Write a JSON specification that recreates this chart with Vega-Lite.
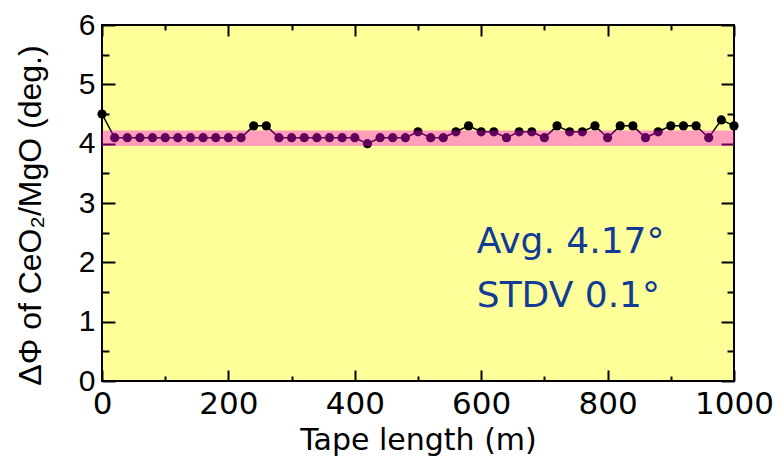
{
  "$schema": "https://vega.github.io/schema/vega-lite/v6.json",
  "width": 632,
  "height": 356,
  "autosize": {"type": "none"},
  "padding": {"left": 102, "top": 25, "right": 46, "bottom": 75},
  "background": "white",
  "config": {
    "view": {"fill": "#ffff99", "stroke": "black", "strokeWidth": 2},
    "axis": {"grid": false, "domain": false, "tickColor": "black", "tickWidth": 2, "labelColor": "black", "titleColor": "black"}
  },
  "datasets": {
    "pts": [
      {"length": 0, "dphi": 4.5},
      {"length": 20, "dphi": 4.1},
      {"length": 40, "dphi": 4.1},
      {"length": 60, "dphi": 4.1},
      {"length": 80, "dphi": 4.1},
      {"length": 100, "dphi": 4.1},
      {"length": 120, "dphi": 4.1},
      {"length": 140, "dphi": 4.1},
      {"length": 160, "dphi": 4.1},
      {"length": 180, "dphi": 4.1},
      {"length": 200, "dphi": 4.1},
      {"length": 220, "dphi": 4.1},
      {"length": 240, "dphi": 4.3},
      {"length": 260, "dphi": 4.3},
      {"length": 280, "dphi": 4.1},
      {"length": 300, "dphi": 4.1},
      {"length": 320, "dphi": 4.1},
      {"length": 340, "dphi": 4.1},
      {"length": 360, "dphi": 4.1},
      {"length": 380, "dphi": 4.1},
      {"length": 400, "dphi": 4.1},
      {"length": 420, "dphi": 4.0},
      {"length": 440, "dphi": 4.1},
      {"length": 460, "dphi": 4.1},
      {"length": 480, "dphi": 4.1},
      {"length": 500, "dphi": 4.2},
      {"length": 520, "dphi": 4.1},
      {"length": 540, "dphi": 4.1},
      {"length": 560, "dphi": 4.2},
      {"length": 580, "dphi": 4.3},
      {"length": 600, "dphi": 4.2},
      {"length": 620, "dphi": 4.2},
      {"length": 640, "dphi": 4.1},
      {"length": 660, "dphi": 4.2},
      {"length": 680, "dphi": 4.2},
      {"length": 700, "dphi": 4.1},
      {"length": 720, "dphi": 4.3},
      {"length": 740, "dphi": 4.2},
      {"length": 760, "dphi": 4.2},
      {"length": 780, "dphi": 4.3},
      {"length": 800, "dphi": 4.1},
      {"length": 820, "dphi": 4.3},
      {"length": 840, "dphi": 4.3},
      {"length": 860, "dphi": 4.1},
      {"length": 880, "dphi": 4.2},
      {"length": 900, "dphi": 4.3},
      {"length": 920, "dphi": 4.3},
      {"length": 940, "dphi": 4.3},
      {"length": 960, "dphi": 4.1},
      {"length": 980, "dphi": 4.4},
      {"length": 1000, "dphi": 4.3}
    ],
    "band": [
      {"x0": 0, "x1": 1000, "lo": 3.96, "hi": 4.22}
    ],
    "notes": [
      {"x": 593, "y": 2.15, "label": "Avg. 4.17°"},
      {"x": 593, "y": 1.24, "label": "STDV 0.1°"}
    ]
  },
  "layer": [
    {
      "data": {"name": "pts"},
      "mark": {"type": "line", "color": "black", "strokeWidth": 1.5},
      "encoding": {
        "x": {"field": "length", "type": "quantitative",
          "scale": {"domain": [0, 1000], "nice": false},
          "axis": {"orient": "bottom", "values": [0, 200, 400, 600, 800, 1000], "format": "d", "offset": -11, "tickSize": 11, "labelPadding": 8,
            "labelFont": "DejaVu Sans", "labelFontSize": 31, "labelFlush": false,
            "title": "Tape length (m)", "titleFont": "DejaVu Sans", "titleFontSize": 30, "titleFontWeight": "normal", "titlePadding": 6}},
        "y": {"field": "dphi", "type": "quantitative",
          "scale": {"domain": [0, 6], "nice": false},
          "axis": {"orient": "left", "values": [0, 1, 2, 3, 4, 5, 6], "offset": -13, "tickSize": 13, "labelPadding": 7,
            "labelFont": "Liberation Sans", "labelFontSize": 30, "labelFlush": false,
            "title": "ΔΦ of CeO₂/MgO (deg.)", "titleFont": "Liberation Sans", "titleFontSize": 32, "titleFontWeight": "normal", "titlePadding": 31, "titleY": 190}}
      }
    },
    {
      "data": {"name": "pts"},
      "mark": {"type": "point", "filled": true, "color": "black", "size": 85, "opacity": 1},
      "encoding": {
        "x": {"field": "length", "type": "quantitative",
          "axis": {"orient": "top", "values": [0, 200, 400, 600, 800, 1000], "offset": -11, "tickSize": 11, "labels": false, "title": null}},
        "y": {"field": "dphi", "type": "quantitative",
          "axis": {"orient": "right", "values": [0, 1, 2, 3, 4, 5, 6], "offset": -13, "tickSize": 13, "labels": false, "title": null}}
      }
    },
    {
      "data": {"name": "band"},
      "mark": {"type": "rect", "color": "#ff00f0", "opacity": 0.38},
      "encoding": {
        "x": {"field": "x0", "type": "quantitative",
          "axis": {"orient": "bottom", "values": [100, 300, 500, 700, 900], "offset": -5, "tickSize": 5, "labels": false, "title": null}},
        "x2": {"field": "x1"},
        "y": {"field": "lo", "type": "quantitative",
          "axis": {"orient": "left", "values": [0.5, 1.5, 2.5, 3.5, 4.5, 5.5], "offset": -7, "tickSize": 7, "labels": false, "title": null}},
        "y2": {"field": "hi"}
      }
    },
    {
      "data": {"name": "notes"},
      "mark": {"type": "text", "align": "left", "baseline": "alphabetic", "font": "DejaVu Sans", "fontSize": 36, "color": "#103c96"},
      "encoding": {
        "x": {"field": "x", "type": "quantitative",
          "axis": {"orient": "top", "values": [100, 300, 500, 700, 900], "offset": -5, "tickSize": 5, "labels": false, "title": null}},
        "y": {"field": "y", "type": "quantitative",
          "axis": {"orient": "right", "values": [0.5, 1.5, 2.5, 3.5, 4.5, 5.5], "offset": -7, "tickSize": 7, "labels": false, "title": null}},
        "text": {"field": "label"}
      }
    }
  ],
  "resolve": {"axis": {"x": "independent", "y": "independent"}}
}
